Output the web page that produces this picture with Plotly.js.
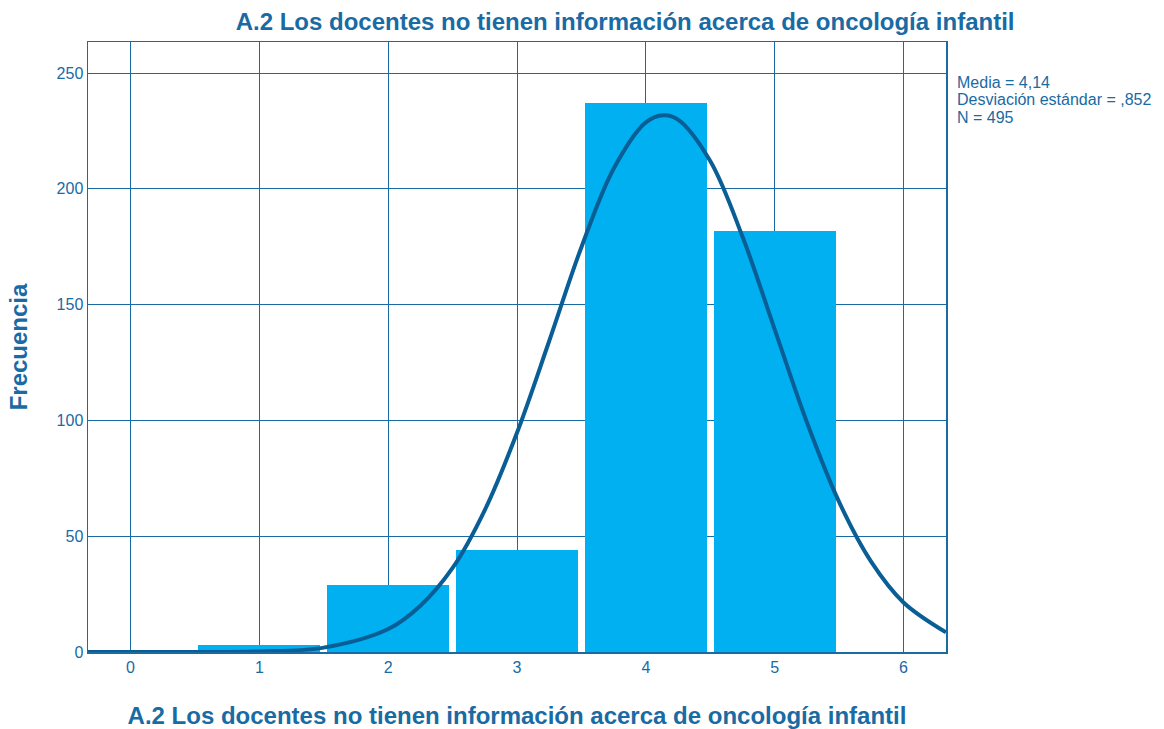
<!DOCTYPE html>
<html><head><meta charset="utf-8">
<script src="https://cdn.plot.ly/plotly-3.0.1.min.js"></script>
<style>body{margin:0;background:#fff}#c{width:1164px;height:729px}</style>
</head><body><div id="c"></div>
<script>
const categories = [1, 2, 3, 4, 5];
const frequencies = [3, 29, 44, 237, 182];
const curveX = [-0.33, 0, 0.5, 1, 1.5, 2, 2.25, 2.5, 2.75, 3, 3.25, 3.5, 3.75, 4, 4.14, 4.25, 4.5, 4.75, 5, 5.25, 5.5, 5.75, 6, 6.33];
const curveY = [0, 0, 0.03, 0.26, 1.9, 9.9, 20, 36.3, 61.3, 94.7, 134.3, 174.8, 208.7, 228.7, 231.8, 229.9, 212.0, 179.4, 139.3, 99.2, 64.8, 38.9, 21.4, 8.5];
const xTicks = [0, 1, 2, 3, 4, 5, 6];
const yTicks = [0, 50, 100, 150, 200, 250];
const statsText = ['Media = 4,14', 'Desviación estándar = ,852', 'N = 495'];
const titleText = 'A.2 Los docentes no tienen información acerca de oncología infantil';

const blue = '#1a6aa3';
const font = 'Liberation Sans, Arial, sans-serif';

const traces = [
  {type:'bar', x:categories, y:frequencies, width:0.947, marker:{color:'#00b0f0', line:{width:0}}, hoverinfo:'x+y'},
  {type:'scatter', mode:'lines', x:curveX, y:curveY, line:{color:'#0a5e96', width:4, shape:'spline', smoothing:1}, hoverinfo:'skip'}
];

const statsY = [0.9336, 0.9057, 0.8770];
const annotations = statsText.map((t, i) => ({
  xref:'paper', yref:'paper', x:1.0105, y:statsY[i], xanchor:'left', yanchor:'middle', align:'left', showarrow:false,
  text:t, font:{size:16, color:blue, family:font}
}));

const layout = {
  width:1164, height:729,
  margin:{l:88, r:218, t:42, b:77},
  paper_bgcolor:'#fff', plot_bgcolor:'#fff',
  showlegend:false,
  font:{family:font, color:blue},
  title:{text:'<b>'+titleText+'</b>', x:0.537, xanchor:'center', y:0.97, yanchor:'middle', font:{size:24, color:blue, family:font}},
  xaxis:{range:[-0.33, 6.33], tickvals:xTicks, ticktext:xTicks.map(String), showgrid:true, gridcolor:blue, gridwidth:1,
    zeroline:false, showline:true, linecolor:blue, linewidth:1.5, mirror:true, ticks:'', tickfont:{size:16, color:blue},
    title:{text:'<b>'+titleText+'</b>', font:{size:24, color:blue}, standoff:33}},
  yaxis:{range:[0, 263.4], tickvals:yTicks, showgrid:true, gridcolor:blue, gridwidth:1,
    zeroline:false, showline:true, linecolor:blue, linewidth:1.5, mirror:true, ticks:'', tickfont:{size:16, color:blue},
    title:{text:'<b>Frecuencia</b>', font:{size:24, color:blue}, standoff:22}},
  annotations:annotations,
  bargap:0
};
Plotly.newPlot('c', traces, layout, {displayModeBar:false, staticPlot:true});
</script></body></html>
